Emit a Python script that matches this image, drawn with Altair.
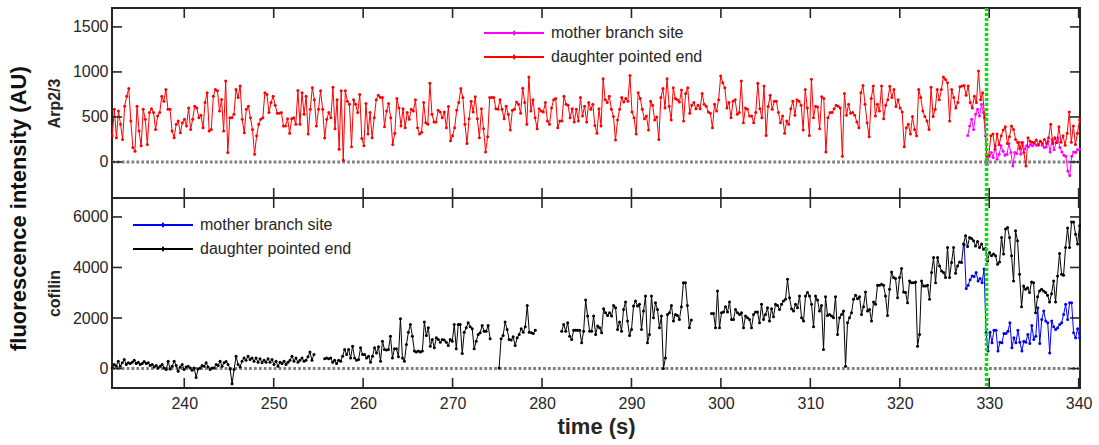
import altair as alt
import numpy as np
import pandas as pd

FONT = "Liberation Sans"
AX = "#262626"

# ---------------- axes / reference values ----------------
X_DOMAIN = [231.92, 340.15]
X_TICKS = [240, 250, 260, 270, 280, 290, 300, 310, 320, 330, 340]
ARP_DOMAIN = [-400, 1710]
ARP_TICKS = [0, 500, 1000, 1500]
COF_DOMAIN = [-770, 6750]
COF_TICKS = [0, 2000, 4000, 6000]
EVENT_T = [329.7]
ZERO = [0]

SERIES = ["mother branch site", "daughter pointed end"]
ARP_COLORS = ["#ff00ff", "#ff0000"]
COF_COLORS = ["#0000ff", "#000000"]

# ---------------- Arp2/3 ----------------
arp_daughter_span = [231.95, 340.1]
arp_daughter = [
    290, 585, 270, 565, 420, 250, 620, 730, 815, 455, 160, 120, 620, 345, 180, 585, 475, 195, 550, 590,
    550, 360, 510, 550, 730, 675, 805, 585, 585, 345, 270, 420, 455, 325, 435, 475, 400, 600, 360, 475,
    620, 600, 490, 520, 380, 660, 770, 345, 360, 730, 805, 790, 565, 695, 345, 900, 105, 490, 490, 530,
    805, 715, 845, 475, 325, 585, 620, 490, 360, 85, 290, 420, 475, 490, 770,
    750, 550, 660, 730, 630, 540, 540, 550, 400, 400, 480, 320, 480, 490, 420, 795, 420, 770, 530, 730,
    310, 585, 825, 690, 400, 585, 790, 585, 265, 475, 550, 490, 830, 370, 690, 140, 790, 20, 790, 675,
    640, 170, 690, 640, 550, 750, 260, 180, 650, 310, 550, 270, 490, 690, 740, 715, 715, 390, 565, 650,
    490, 195, 320, 705, 600, 400, 590, 380, 550, 475, 585, 565, 690, 380, 310, 330, 660, 435,
    420, 875, 530, 445, 445, 575, 555, 490, 555, 380, 615, 235, 290, 380, 575, 660, 815, 715, 420, 205,
    480, 675, 555, 725, 480, 270, 590, 370, 110, 280, 715, 715, 715, 590, 585, 690, 585, 480, 620, 530,
    355, 575, 585, 665, 640, 540, 820, 660, 420, 945, 565, 690, 490, 370, 590, 565, 555, 660, 455, 420,
    600, 690, 705, 380, 455, 455, 730, 640, 630, 490, 590, 445, 585, 455, 715, 510, 620, 445, 660,
    585, 640, 405, 320, 590, 400, 925, 690, 660, 730, 585, 505, 245, 465, 585, 715, 665, 705, 675, 960,
    555, 490, 310, 770, 705, 585, 480, 510, 355, 675, 630, 465, 500, 250, 715, 815, 600, 925, 620, 465,
    825, 705, 690, 665, 800, 455, 760, 825, 540, 630, 660, 590, 630, 590, 760, 640, 620, 555, 540, 380,
    640, 565, 690, 955, 880, 825, 600, 660, 490, 675, 690, 530, 550, 900, 435, 600, 585, 510,
    510, 435, 550, 875, 590, 490, 845, 295, 615, 740, 585, 675, 675, 550, 435, 510, 320, 455, 420, 590,
    675, 520, 690, 675, 630, 355, 805, 600, 295, 920, 490, 620, 610, 370, 725, 705, 110, 490, 550, 550,
    590, 630, 620, 600, 65, 760, 520, 640, 540, 550, 520, 445, 380, 770, 850, 640, 435, 280, 705, 845,
    510, 640, 565, 845, 480, 630, 690, 840, 715, 805, 615, 690, 600, 555, 170, 380, 420, 310, 505, 360,
    290, 805, 715, 565, 505, 455, 360, 830, 505, 585, 805, 690, 805, 945, 915, 880, 455, 805, 715, 600,
    660, 835, 845, 850, 740, 845, 660, 600, 730, 660, 1010, 690, 770,
    490, 65, 75, 290, 310, 140, 310, 195, 290, 355, 390, 205, 280, 400, 360, 250, 215, 150, 215, 105,
    -45, 270, 230, 220, 215, 245, 195, 230, 205, 250, 205, 270, 420, 205, 270, 215, 390, 220, 290, 185,
    320, 555, 220, 400, 195, 320, 465,
]
arp_mother_span = [327.6, 340.1]
arp_mother = [
    295, 400, 475, 360, 530, 585, 510, 640, 550, 290, -25, 65, 105, 50, 180, 30, 85, 180, 120, 75,
    85, 205, 105, -45, 105, 95, 220, 85, 215, 140, 180, 170, 195, 180, 205, 185, 185, 230, 185, 160,
    170, 230, 110, 250, 135, 215, 270, 160, 110, 75, 65, -100, -150, 65, 110, 105, 135, 140,
]

# ---------------- cofilin ----------------
cof_mother_span = [327.2, 340.1]
cof_mother = [
    4900, 3170, 3295, 3510, 3660, 3640, 3800, 3465, 3560, 3400, 3940, 1415, 690, 1440, 1020, 1520, 1520,
    690, 1045, 1020, 1390, 1390, 1480, 1810, 820, 1215, 1020, 1520, 1045, 690, 1085, 1045, 1350, 990,
    1705, 1150, 1280, 2410, 990, 1945, 2275, 1880, 1810, 620, 1880, 1655, 1550, 1615, 1745, 1810, 2140,
    2540, 1945, 2605, 2605, 1415, 1215, 1575, 1215,
]
cof_daughter_spans = [[231.95, 254.5], [255.7, 274.2], [275.2, 279.25], [282.2, 296.7], [298.95, 340.1]]
cof_daughter_1 = [
    25, 160, 90, 290, 90, 225, 355, 160, 225, 200, 250, 330, 200, 250, 160, 200, 280, 200, 225, 120,
    160, 65, 120, 25, 90, 160, 25, -40, 290, -15, 90, 290, 120, -105, 65, 160, -40, 65, 90, 25,
    -65, 25, -350, -15, 25, 120, 90, 225, 65, -40, 25, 25, 160, 120, 290, 90, 225, 280, 160, -15,
    -600, -40, 490, 160, 65, 290, 420, 330, 490, 355, 420, 290, 420, 250, 385, 225, 330, 250, 385, 250,
    355, 160, 290, 90, 250, 200, 290, 160, 250, 330, 490, 290, 420, 250, 330, 420, 290, 330, 465, 650,
    330, 555,
]
cof_daughter_2 = [
    385, 420, 385, 420, 250, 330, 200, 330, 290, 490, 755, 555, 755, 420, 885, 420, 330, 355, 820, 555,
    555, 420, 490, 250, 490, 820, 620, 860, 290, 1085, 755, 730, 755, 1280, 420, 780, 780, 465, 1970, 420,
    290, 950, 1440, 1745, 1280, 690, 650, 690, 650, 690, 1840, 1310, 1615, 885, 1150,
    820, 1215, 1150, 1045, 1150, 1125, 1045, 915, 1150, 1085, 1745, 780, 1745, 1745, 595, 1440, 1615, 1810,
    1655, 1575, 780, 1085, 1350, 1415, 1705, 1480, 1480, 1705, 1180,
]
cof_daughter_3 = [25, 1180, 1310, 1840, 1550, 1150, 1125, 1255, 915, 1215, 1350, 1575, 1440, 1655, 2500,
                  1440, 1415, 1390, 1520]
cof_daughter_4 = [
    1480, 1745, 1480, 1810, 1280, 1150, 1520, 1520, 1520, 1520, 1020, 1480, 2710, 2075, 1480, 1480, 2075,
    1350, 1680, 1615, 1415, 2370, 2210, 2100, 2210, 2075, 2500, 2410, 1550, 1840, 1480, 2340, 2635, 1880,
    1310, 1550, 2475, 2670, 2475, 2540, 1550, 2275, 2870, 1020, 1350, 2870, 2010, 2605, 2340, 1615, 2075,
    0, 420, 2140, 2210, 2500, 1880, 2140, 2100, 1945, 2450, 3400, 3400, 2500, 1615, 1920,
]
cof_daughter_5 = [
    2180, 2180, 1615, 3070, 1615, 2210, 2235, 2450, 2235, 2635, 1945, 1945, 2340, 2210, 2140, 2210, 1615,
    2075, 2010, 1945, 1615, 2140, 2235,
    2235, 1810, 2540, 1945, 2140, 2410, 1880, 2370, 2050, 2540, 2500, 2340, 2540, 2670, 2740, 3530, 2805,
    2370, 2275, 2540, 2410, 2870, 2010, 1880, 2870, 3005, 2870, 2540, 1655, 2870, 2710, 2275, 2500, 755,
    2845, 2100, 2140, 2075, 2010, 2845, 1350, 2010, 2140, 2275, 90, 1810, 2010, 2210, 2740, 2900, 2765,
    2845, 2140, 2450, 3030, 2275, 2340, 1880, 2635, 2540, 3295, 3295, 3335, 3295, 2870, 2100, 3135, 3825,
    3600, 3560, 2805, 3600, 3960, 3030, 3005, 2605, 3465, 3400, 3400, 3425, 885,
    1350, 3465, 3270, 3270, 3295, 2740, 3800, 4395, 3400, 4395, 4060, 3865, 3800, 3600, 4790, 3600, 4195,
    4790, 3770, 4060, 4220, 4195, 4925, 5255, 4830, 5190, 5150, 5055, 4855, 5030, 4790, 4925, 4725, 4750,
    4260, 4590, 4460, 4530, 4460, 4130, 4220, 5190, 4530, 5520, 5585, 5190, 4460, 3465, 5450, 5055, 3730,
    2450, 3270, 3135, 3200, 3005, 3425, 3400, 2210, 2845, 3070, 3135, 3070, 3005, 2900, 2635, 2965, 3465,
    2635, 3660, 4550, 3730, 3690, 4790, 5560, 4790, 5800, 5800, 5320, 4925, 5650,
]
cof_daughter_segments = [cof_daughter_1, cof_daughter_2, cof_daughter_3, cof_daughter_4, cof_daughter_5]


def series_frame(values, span, name, seg=0):
    return pd.DataFrame({
        "t": np.linspace(span[0], span[1], len(values)),
        "v": values,
        "series": name,
        "seg": seg,
    })


arp_m = series_frame(arp_mother, arp_mother_span, SERIES[0])
arp_d = series_frame(arp_daughter, arp_daughter_span, SERIES[1])
cof_m = series_frame(cof_mother, cof_mother_span, SERIES[0])
cof_d = pd.concat([series_frame(vals, sp, SERIES[1], i)
                   for i, (vals, sp) in enumerate(zip(cof_daughter_segments, cof_daughter_spans))],
                  ignore_index=True)

W, H = 968, 190
TICK = 10

XSCALE = alt.Scale(domain=X_DOMAIN, nice=False, zero=False)


def panel(df_m, df_d, ydomain, yticks, colors, ytitle, show_x, legend_x, legend_y, row_pad):
    yscale = alt.Scale(domain=ydomain, nice=False, zero=False)
    if show_x:
        xaxis = alt.Axis(values=X_TICKS, format="d", ticks=False, domain=False, grid=False,
                         labelFont=FONT, labelFontSize=16, labelColor=AX, labelPadding=7,
                         title="time (s)", titleFont=FONT, titleFontSize=22, titleFontWeight="bold",
                         titleColor=AX, titlePadding=5)
    else:
        xaxis = None
    yaxis = alt.Axis(values=yticks, format="d", ticks=False, domain=False, grid=False,
                     labelFont=FONT, labelFontSize=16, labelColor=AX, labelPadding=4,
                     title=ytitle, titleFont=FONT, titleFontSize=16, titleFontWeight="bold",
                     titleColor=AX, titlePadding=10)
    color = alt.Color(
        "series:N",
        scale=alt.Scale(domain=SERIES, range=colors),
        legend=alt.Legend(
            title=None, orient="none", legendX=legend_x, legendY=legend_y,
            symbolType="M-11,0H1M-5,-0.45V0.45", symbolSize=100, symbolStrokeWidth=2,
            labelFont=FONT, labelFontSize=16, labelColor=AX, labelOffset=4,
            rowPadding=row_pad, padding=0,
        ),
    )

    zero = alt.Chart(pd.DataFrame({"v": ZERO})).mark_rule(
        color="#808080", strokeWidth=3, strokeDash=[2.8, 2.1]
    ).encode(y=alt.Y("v:Q", scale=yscale, axis=yaxis))

    def line(df):
        return alt.Chart(df).mark_line(
            strokeWidth=1,
            point=alt.OverlayMarkDef(filled=True, size=9, opacity=1),
        ).encode(
            x=alt.X("t:Q", scale=XSCALE, axis=xaxis),
            y=alt.Y("v:Q", scale=yscale, axis=yaxis),
            color=color,
            detail="seg:N",
            order="t:Q",
        )

    event = alt.Chart(pd.DataFrame({"t": EVENT_T})).mark_rule(
        color="#00e400", strokeWidth=3.5, strokeDash=[3, 2]
    ).encode(x=alt.X("t:Q", scale=XSCALE, axis=xaxis))

    xt = pd.DataFrame({"t": X_TICKS})
    yt = pd.DataFrame({"v": yticks})
    tick_style = dict(color=AX, strokeWidth=1.6)
    xt_top = alt.Chart(xt).mark_rule(**tick_style).encode(
        x=alt.X("t:Q", scale=XSCALE, axis=xaxis), y=alt.value(0), y2=alt.value(TICK))
    xt_bot = alt.Chart(xt).mark_rule(**tick_style).encode(
        x=alt.X("t:Q", scale=XSCALE, axis=xaxis), y=alt.value(H - TICK), y2=alt.value(H))
    yt_left = alt.Chart(yt).mark_rule(**tick_style).encode(
        y=alt.Y("v:Q", scale=yscale, axis=yaxis), x=alt.value(0), x2=alt.value(TICK))
    yt_right = alt.Chart(yt).mark_rule(**tick_style).encode(
        y=alt.Y("v:Q", scale=yscale, axis=yaxis), x=alt.value(W - TICK), x2=alt.value(W))

    return alt.layer(zero, line(df_m), line(df_d), event, xt_top, xt_bot, yt_left, yt_right).properties(
        width=W, height=H)


top = panel(arp_m, arp_d, ARP_DOMAIN, ARP_TICKS, ARP_COLORS, "Arp2/3", False, 419, 17, 8)
bottom = panel(cof_m, cof_d, COF_DOMAIN, COF_TICKS, COF_COLORS, "cofilin", True, 68, 19, 8)

chart = alt.vconcat(top, bottom, spacing=0, bounds="flush").resolve_scale(
    color="independent", y="independent"
).resolve_legend(color="independent").properties(
    title=alt.TitleParams(
        text="fluorescence intensity (AU)", orient="left", anchor="middle",
        font=FONT, fontSize=22, fontWeight="bold", color="#111111", offset=14, dx=13,
    ),
    padding={"left": 8, "top": 5, "right": 3, "bottom": 2},
).configure_view(stroke=AX, strokeWidth=2)

chart.save("out.html", embed_options={"renderer": "svg", "actions": False})
